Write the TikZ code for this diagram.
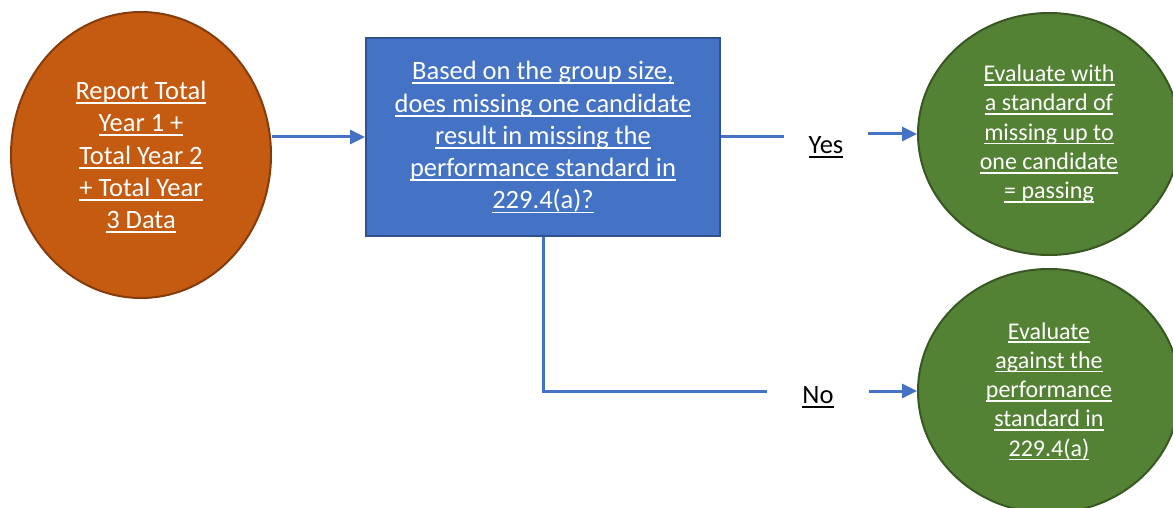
\documentclass[tikz,border=0pt]{standalone}
\usepackage{fontspec}
\setmainfont{Carlito}
\usetikzlibrary{shapes.geometric,arrows.meta}
\definecolor{rust}{HTML}{C55A11}
\definecolor{rustline}{HTML}{843C0C}
\definecolor{boxblue}{HTML}{4472C4}
\definecolor{boxline}{HTML}{2F528F}
\definecolor{leaf}{HTML}{548235}
\definecolor{leafline}{HTML}{385723}
\newcommand\undl[1]{\setbox0\hbox{#1}\rlap{\smash{\rule[-0.17em]{\wd0}{0.07em}}}\box0}
\tikzset{
    bigtxt/.style={font=\fontsize{26.5}{32.3}\selectfont, align=center},
    smalltxt/.style={font=\fontsize{24}{29.3}\selectfont, align=center},
    blob/.style={ellipse, draw, line width=2pt, text=white, inner sep=0pt},
    flow/.style={draw=boxblue, line width=3pt},
    flowarrow/.style={flow, -{Triangle[length=15pt,width=14pt]}},
}
\begin{document}
\begin{tikzpicture}[x=1pt,y=-1pt]
            \useasboundingbox (0,0) rectangle (1173,508);

            \def\xleft{141}
            \def\xmid{543}
            \def\xright{1049}
            \def\ytop{137}
            \def\ybot{391}

            \node[blob, bigtxt, fill=rust, draw=rustline, minimum width=260pt, minimum height=286pt] (report) at (\xleft, 155)
                {\undl{Report Total}\\\undl{Year 1 +}\\\undl{Total Year 2}\\\undl{+ Total Year}\\\undl{3 Data}};
            \node[rectangle, draw=boxline, fill=boxblue, line width=2pt, text=white, bigtxt, minimum width=354pt, minimum height=198pt] (decide) at (\xmid, \ytop)
                {\undl{Based on the group size,}\\\undl{does missing one candidate}\\\undl{result in missing the}\\\undl{performance standard in}\\\undl{229.4(a)?}};
            \node[blob, smalltxt, fill=leaf, draw=leafline, minimum width=262pt, minimum height=242pt] (pass) at (\xright, 134)
                {\undl{Evaluate with}\\\undl{a standard of}\\\undl{missing up to}\\\undl{one candidate}\\\undl{= passing}};
            \node[blob, smalltxt, fill=leaf, draw=leafline, minimum width=262pt, minimum height=244pt] (perf) at (\xright, \ybot)
                {\undl{Evaluate}\\\undl{against the}\\\undl{performance}\\\undl{standard in}\\\undl{229.4(a)}};

            \node[bigtxt, inner xsep=24.5pt] (yes) at (826, 145) {\undl{Yes}};
            \node[bigtxt, inner xsep=35pt] (no) at (818, 395) {\undl{No}};

            \draw[flowarrow] (report.east |- decide.west) -- (decide.west);
            \draw[flow] (decide.east) -- (decide.east -| yes.west);
            \draw[flowarrow] (yes.east |- pass.west) -- (pass.west);
            \draw[flow] (decide.south) |- (no.west |- perf.west);
            \draw[flowarrow] (no.east |- perf.west) -- (perf.west);
        \end{tikzpicture}
\end{document}
